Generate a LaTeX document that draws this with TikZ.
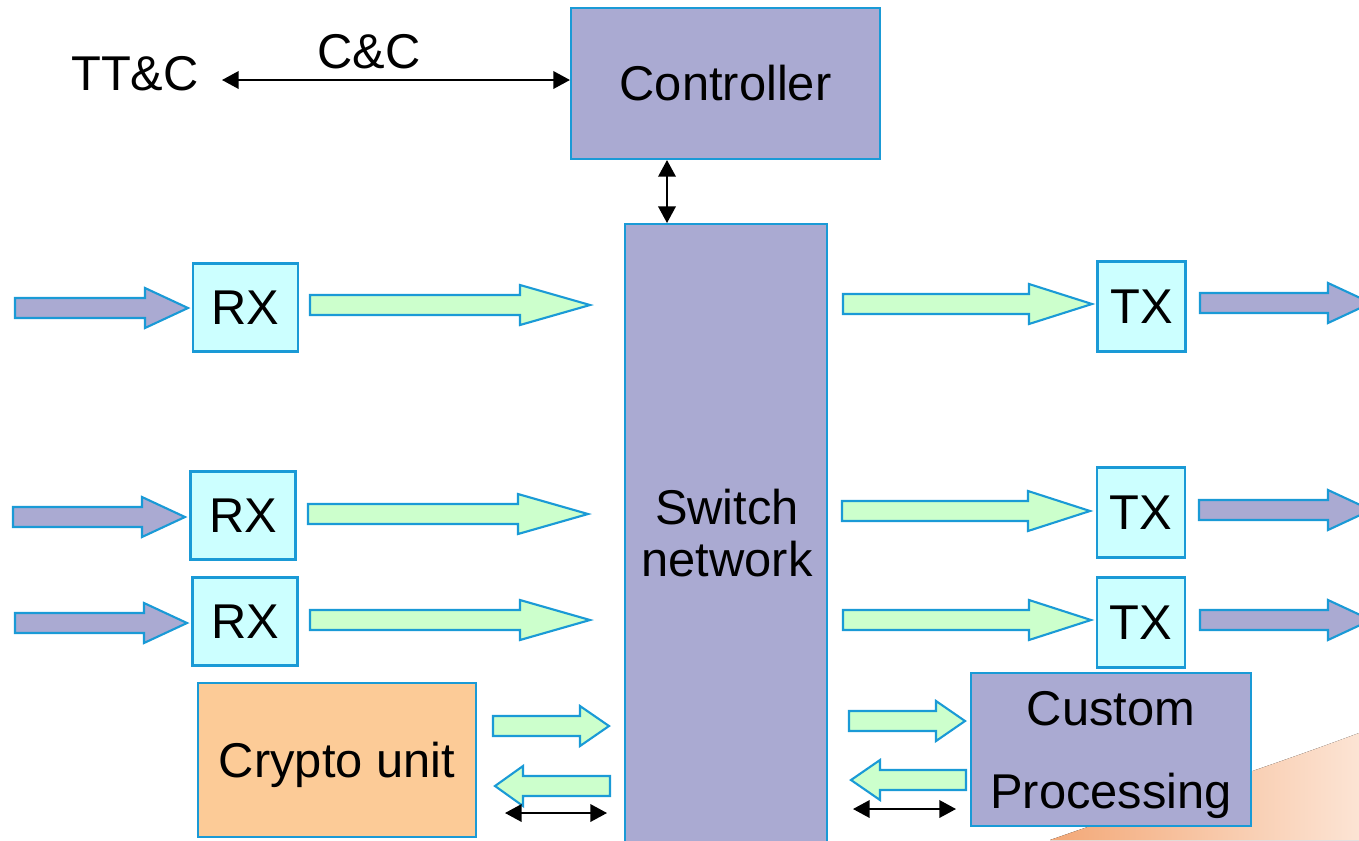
\documentclass[tikz,border=0pt]{standalone}
\usepackage{fontspec}
\setmainfont{Liberation Sans}
\usetikzlibrary{arrows.meta}

\definecolor{lav}{HTML}{AAAAD2}
\definecolor{cyanfill}{HTML}{CCFFFF}
\definecolor{greenfill}{HTML}{CCFFCC}
\definecolor{orangefill}{HTML}{FCCB97}
\definecolor{edgeblue}{HTML}{1A9AD6}
\definecolor{swooshA}{HTML}{F3A877}
\definecolor{swooshB}{HTML}{FCE4D4}

% block arrow: style, tail x, tip x, centre y, signed head length
\newcommand{\blockarrow}[5]{%
  \draw[#1] (#2,#4-10) -- ({#3-(#5)},#4-10) -- ({#3-(#5)},#4-20) -- (#3,#4)
    -- ({#3-(#5)},#4+20) -- ({#3-(#5)},#4+10) -- (#2,#4+10) -- cycle;}

\begin{document}
\begin{tikzpicture}[x=0.02cm,y=-0.02cm,
  bigfont/.style={font=\fontsize{27.8}{30}\selectfont},
  box/.style={draw=edgeblue, line width=1.2pt, inner sep=0pt, bigfont},
  txt/.style={inner sep=0pt, bigfont},
  parrow/.style={fill=lav, draw=edgeblue, line width=1.2pt, line join=miter},
  garrow/.style={fill=greenfill, draw=edgeblue, line width=1.2pt, line join=miter},
  dbl/.style={line width=1.1pt, {Triangle[length=9.5pt,width=10pt]}-{Triangle[length=9.5pt,width=10pt]}}]

\useasboundingbox (0,0) rectangle (1359,840);
\clip (0,0) rectangle (1359,840);

% decorative swoosh behind the lower right corner
\fill[left color=swooshA, right color=swooshB]
  (1050,840) .. controls (1150,805) and (1260,770) .. (1359,733) -- (1359,840) -- cycle;

% main blocks
\node[box, fill=lav, minimum width=6.18cm, minimum height=3.02cm] (ctrl) at (725.5,83.5) {Controller};
\node[box, fill=lav, minimum width=4.04cm, minimum height=12.6cm] (sw) at (726,539) {};
\node[txt, align=center] (swlabel) at (727,533) {Switch\\network};

\node[box, fill=cyanfill, minimum width=2.1cm, minimum height=1.76cm] (rx1) at (245.5,307.5) {RX};
\node[box, fill=cyanfill, minimum width=2.1cm, minimum height=1.76cm] (rx2) at (243,515.5) {RX};
\node[box, fill=cyanfill, minimum width=2.1cm, minimum height=1.76cm] (rx3) at (245,621.5) {RX};

\node[box, fill=cyanfill, minimum width=1.76cm, minimum height=1.8cm] (tx1) at (1141.5,306.5) {TX};
\node[box, fill=cyanfill, minimum width=1.76cm, minimum height=1.8cm] (tx2) at (1141,512.5) {TX};
\node[box, fill=cyanfill, minimum width=1.76cm, minimum height=1.8cm] (tx3) at (1141,622.5) {TX};

\node[box, fill=orangefill, minimum width=5.56cm, minimum height=3.08cm] (crypto) at (337,760) {};
\node[txt, anchor=base] (cryptolabel) at (337,777) {Crypto unit};

\node[box, fill=lav, minimum width=5.6cm, minimum height=3.06cm] (custom) at (1111,749.5) {};
\node[txt, anchor=base] (customA) at (1111,725) {Custom};
\node[txt, anchor=base] (customB) at (1111,808) {Processing};

% command and control link
\node[txt, anchor=base] (ttc) at (135,90) {TT\&C};
\node[txt, anchor=base] (cc) at (369,68) {C\&C};
\coordinate (ccleft) at (222,80);
\draw[dbl] (ccleft) -- (ctrl.west |- ccleft);

% controller to switch network
\coordinate (ctrlport) at (667,0);
\draw[dbl] (ctrlport |- ctrl.south) -- (ctrlport |- sw.north);

% incoming links
\blockarrow{parrow}{15}{188}{308}{43}
\blockarrow{parrow}{13}{185}{517}{43}
\blockarrow{parrow}{15}{187}{623}{43}

% receivers to switch network
\blockarrow{garrow}{310}{590}{305}{70}
\blockarrow{garrow}{308}{588}{514}{70}
\blockarrow{garrow}{310}{590}{620}{70}

% switch network to transmitters
\blockarrow{garrow}{843}{1092}{304}{63}
\blockarrow{garrow}{842}{1090}{511}{62}
\blockarrow{garrow}{843}{1091}{620}{62}

% outgoing links
\blockarrow{parrow}{1200}{1371}{303}{43}
\blockarrow{parrow}{1199}{1371}{510}{43}
\blockarrow{parrow}{1200}{1371}{620}{43}

% crypto unit exchange
\blockarrow{garrow}{493}{609}{726}{29}
\blockarrow{garrow}{610}{495}{786}{-28}
\coordinate (cryA) at (505,813);
\coordinate (cryB) at (607,813);
\draw[dbl] (cryA) -- (cryB);

% custom processing exchange
\blockarrow{garrow}{849}{965}{721}{29}
\blockarrow{garrow}{966}{851}{780}{-29}
\coordinate (cusA) at (853,809);
\coordinate (cusB) at (956,809);
\draw[dbl] (cusA) -- (cusB);

\end{tikzpicture}
\end{document}
